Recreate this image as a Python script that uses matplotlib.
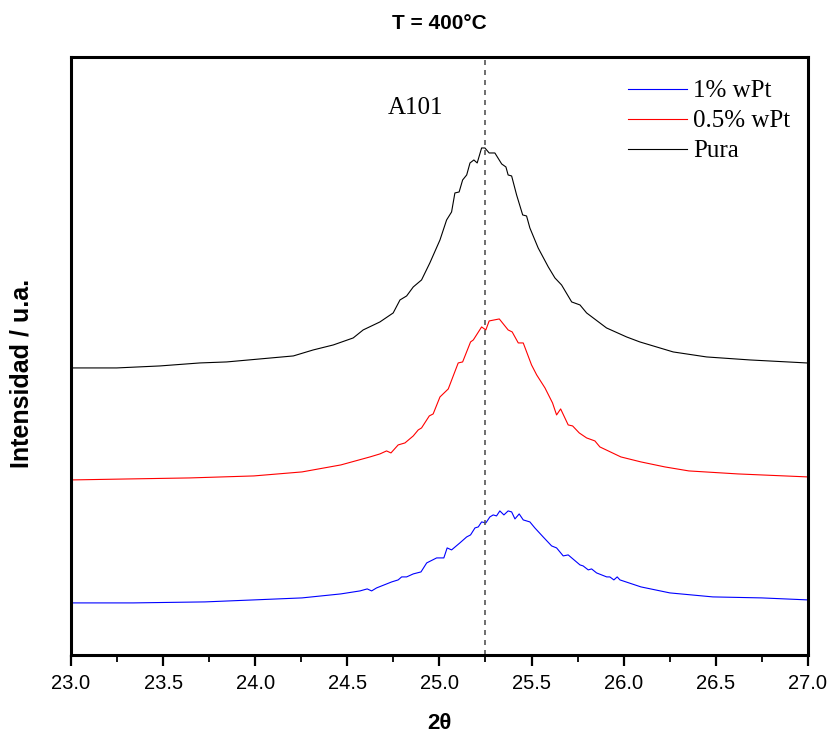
"""XRD detail around the anatase A101 reflection, T = 400 C."""

import matplotlib

matplotlib.use("Agg")
import matplotlib.pyplot as plt
from matplotlib.ticker import MultipleLocator

# 2theta / intensity (arbitrary units, offset stacked)
pura_2t = [23.012, 23.248, 23.483, 23.700, 23.845, 24.026, 24.207, 24.315, 24.424,
           24.532, 24.586, 24.677, 24.749, 24.786, 24.822, 24.858, 24.903, 24.948,
           25.003, 25.039, 25.066, 25.084, 25.107, 25.126, 25.148, 25.166, 25.187,
           25.205, 25.229, 25.247, 25.270, 25.301, 25.338, 25.361, 25.373, 25.392,
           25.419, 25.452, 25.473, 25.491, 25.536, 25.591, 25.627, 25.663, 25.718,
           25.763, 25.799, 25.907, 26.016, 26.088, 26.269, 26.450, 26.685, 26.993]
pura_int = [287, 287, 289, 292, 293, 296, 299, 305, 310,
            317, 325, 333, 342, 355, 359, 368, 375, 392,
            415, 435, 443, 462, 463, 475, 480, 492, 495,
            492, 507, 507, 502, 502, 491, 488, 480, 479,
            460, 440, 439, 427, 407, 388, 377, 370, 353,
            350, 342, 327, 318, 313, 303, 298, 295, 292]

pt05_2t = [23.005, 23.320, 23.646, 23.993, 24.254, 24.465, 24.623, 24.677, 24.713,
           24.737, 24.776, 24.813, 24.858, 24.885, 24.903, 24.945, 24.966, 25.003,
           25.048, 25.102, 25.126, 25.169, 25.184, 25.229, 25.252, 25.270, 25.325,
           25.373, 25.395, 25.428, 25.455, 25.500, 25.528, 25.573, 25.614, 25.636,
           25.658, 25.699, 25.723, 25.759, 25.799, 25.844, 25.871, 25.985, 26.094,
           26.224, 26.354, 26.620, 27.000]
pt05_int = [175, 176, 177, 179, 183, 190, 198, 201, 204,
            202, 210, 212, 219, 225, 227, 239, 241, 258,
            266, 292, 293, 313, 315, 328, 325, 334, 336,
            325, 323, 312, 312, 290, 280, 267, 252, 240,
            246, 230, 229, 222, 217, 214, 208, 198, 193,
            188, 184, 181, 178]

pt1_2t = [23.005, 23.337, 23.727, 23.993, 24.254, 24.465, 24.569, 24.608, 24.632,
          24.659, 24.741, 24.776, 24.795, 24.822, 24.858, 24.900, 24.931, 24.985,
          25.024, 25.042, 25.066, 25.111, 25.148, 25.169, 25.193, 25.211, 25.229,
          25.252, 25.274, 25.292, 25.310, 25.328, 25.350, 25.373, 25.392, 25.410,
          25.433, 25.455, 25.491, 25.518, 25.563, 25.609, 25.636, 25.672, 25.699,
          25.763, 25.780, 25.808, 25.826, 25.853, 25.908, 25.925, 25.947, 25.965,
          25.980, 26.094, 26.251, 26.484, 26.750, 27.000]
pt1_int = [52, 52, 53, 55, 57, 61, 64, 66, 64,
           67, 73, 75, 78, 78, 81, 83, 92, 97,
           97, 107, 105, 112, 118, 120, 127, 128, 133,
           132, 138, 140, 139, 144, 140, 144, 143, 136,
           141, 135, 133, 127, 118, 109, 107, 99, 100,
           90, 89, 85, 86, 82, 78, 78, 75, 78,
           75, 68, 62, 58, 57, 55]

series = [
    (pt1_2t, pt1_int, "1% wPt", "#0000ff"),
    (pt05_2t, pt05_int, "0.5% wPt", "#ff0000"),
    (pura_2t, pura_int, "Pura", "#000000"),
]
peak_pos = 25.25

plt.rcParams.update({"font.family": "Liberation Sans"})

fig = plt.figure(figsize=(8.35, 7.4), dpi=100)
ax = fig.add_axes([0.085, 0.115, 0.8825, 0.808])

for x, y, label, color in series:
    ax.plot(x, y, color=color, lw=0.8, label=label)

ax.axvline(peak_pos, color="#555555", lw=1.2, ls=(0, (3, 3)))
ax.text(24.72, 547, "A101", family="Liberation Serif", fontsize=18, ha="left", va="center")

ax.set_xlim(23.0, 27.0)
ax.set_ylim(0, 598)
ax.xaxis.set_major_locator(MultipleLocator(0.5))
ax.xaxis.set_minor_locator(MultipleLocator(0.25))
ax.xaxis.set_major_formatter(matplotlib.ticker.FormatStrFormatter("%.1f"))
ax.tick_params(axis="x", which="major", direction="out", length=8, width=1.6, labelsize=14.5, pad=6)
ax.tick_params(axis="x", which="minor", direction="out", length=5, width=1.3)
ax.set_yticks([])
for spine in ax.spines.values():
    spine.set_linewidth(2.2)

ax.set_title("T = 400°C", fontsize=15, weight="bold", pad=20)
ax.set_xlabel("2θ", fontsize=16, weight="bold", labelpad=14)
ax.set_ylabel("Intensidad / u.a.", fontsize=18, weight="bold")
ax.yaxis.set_label_coords(-0.051, 0.47)

ax.legend(
    loc="upper left",
    bbox_to_anchor=(0.729, 0.995),
    frameon=False,
    prop={"family": "Liberation Serif", "size": 18},
    handlelength=2.35,
    handletextpad=0.25,
    labelspacing=0.3,
    borderpad=0.3,
)

fig.savefig("out.png", dpi=100)
